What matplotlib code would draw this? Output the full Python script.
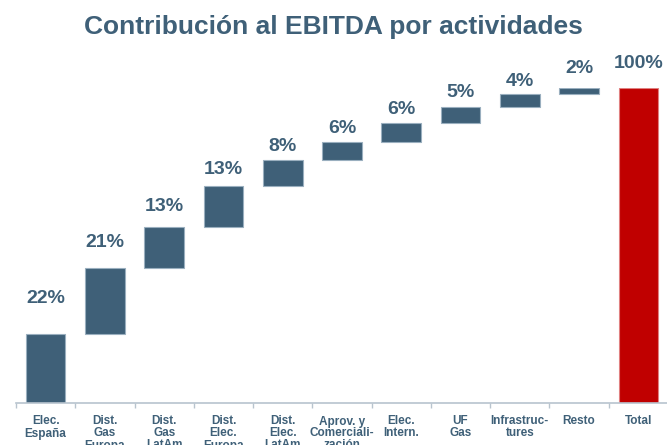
import numpy as np
import matplotlib
matplotlib.use("Agg")
import matplotlib.pyplot as plt

# data
categories = ["Elec.\nEspaña", "Dist.\nGas\nEuropa", "Dist.\nGas\nLatAm", "Dist.\nElec.\nEuropa",
              "Dist.\nElec.\nLatAm", "Aprov. y\nComerciali-\nzación", "Elec.\nIntern.", "UF\nGas",
              "Infrastruc-\ntures", "Resto", "Total"]
contrib = [22, 21, 13, 13, 8, 6, 6, 5, 4, 2]
total = 100

# label gap above each bar (px)
label_pad = [35, 25, 20, 16, 14, 13, 13, 14, 13, 20, 25]

plt.rcParams['font.family'] = ['Liberation Sans', 'DejaVu Sans']

blue = "#3F6078"
red = "#C00000"

fig = plt.figure(figsize=(6.67, 4.45), dpi=100)
ax = fig.add_axes([16 / 667, 42 / 445, 652 / 667, 315 / 445])

bottoms = np.concatenate([[0], np.cumsum(contrib)[:-1]])
x = np.arange(len(contrib))
ax.bar(x, contrib, bottom=bottoms, width=0.67, color=blue, edgecolor="#9AAFBF", linewidth=0.8)
ax.bar([len(contrib)], [total], width=0.67, color=red, edgecolor="#E08080", linewidth=0.8)

tops = list(bottoms + np.array(contrib)) + [total]
vals = contrib + [total]
for i, (t, v) in enumerate(zip(tops, vals)):
    ax.annotate(f"{v}%", (i, t), xytext=(0, label_pad[i] * 0.72), textcoords="offset points",
                ha="center", va="center", fontsize=14, fontweight="bold", color=blue,
                annotation_clip=False)

ax.set_xlim(-0.5, len(categories) - 0.5)
ax.set_ylim(0, 100)
ax.set_xticks(range(len(categories)))
ax.set_xticklabels(categories, fontsize=8.5, fontweight="bold", color=blue, linespacing=1.0)
ax.set_xticks(np.arange(-0.5, len(categories)), minor=True)
ax.tick_params(axis="x", which="major", length=0, pad=9)
ax.tick_params(axis="x", which="minor", length=3.5, color="#B8C4CE", width=1)
ax.set_yticks([])
for s in ["top", "right", "left"]:
    ax.spines[s].set_visible(False)
ax.spines["bottom"].set_color("#B8C4CE")
ax.spines["bottom"].set_linewidth(1.2)

fig.text(0.5, 1 - 27 / 445, "Contribución al EBITDA por actividades", ha="center", va="center",
         fontsize=19, fontweight="bold", color=blue)

fig.savefig("out.png", dpi=100)
